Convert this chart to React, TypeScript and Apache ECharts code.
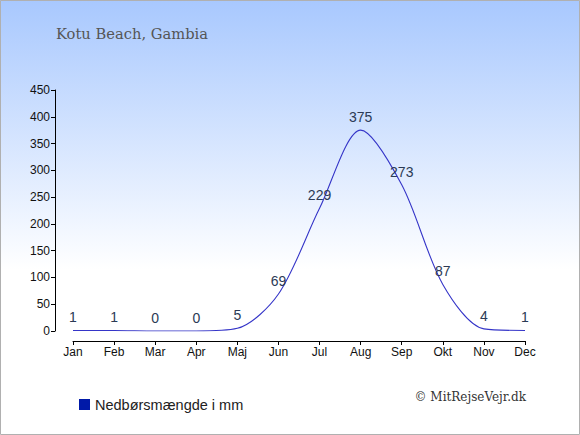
import React, { useEffect, useRef } from "react";
import * as echarts from "echarts";

const months = ["Jan", "Feb", "Mar", "Apr", "Maj", "Jun", "Jul", "Aug", "Sep", "Okt", "Nov", "Dec"];
const rainfall = [1, 1, 0, 0, 5, 69, 229, 375, 273, 87, 4, 1];
const yTicks = { min: 0, max: 450, interval: 50 };
const title = "Kotu Beach, Gambia";
const legendName = "Nedbørsmængde i mm";
const credit = "© MitRejseVejr.dk";

export default function App() {
  const ref = useRef<HTMLDivElement>(null);
  useEffect(() => {
    document.body.style.margin = "0";
    const chart = echarts.init(ref.current!, null, { renderer: "svg" });
    chart.setOption({
      animation: false,
      backgroundColor: {
        type: "linear", x: 0, y: 0, x2: 0, y2: 1,
        colorStops: [
          { offset: 0, color: "#a8c8fe" },
          { offset: 0.62, color: "#ffffff" },
          { offset: 1, color: "#ffffff" },
        ],
      },
      title: {
        text: title,
        left: 51,
        top: 21,
        textStyle: { fontFamily: "DejaVu Serif", fontWeight: "normal", fontSize: 14.7, color: "#555555" },
      },
      legend: {
        left: 74,
        top: 392,
        itemWidth: 11,
        itemHeight: 11,
        itemGap: 6,
        icon: "rect",
        textStyle: { fontFamily: "Liberation Sans", fontSize: 14.5, color: "#222222" },
        data: [{ name: legendName, itemStyle: { color: "#0019a8", opacity: 1 } }],
      },
      graphic: [
        {
          type: "text",
          right: 54,
          top: 391,
          style: { text: credit, font: "12px 'DejaVu Serif'", fill: "#333333" },
        },
        {
          type: "rect",
          shape: { x: 0.5, y: 0.5, width: 579, height: 434 },
          style: { fill: "none", stroke: "#b0b0b0", lineWidth: 1 },
          silent: true,
        },
      ],
      grid: { left: 73, right: 55, top: 90, bottom: 104, containLabel: false },
      xAxis: {
        type: "category",
        data: months,
        boundaryGap: false,
        offset: 10,
        axisLine: { onZero: false, lineStyle: { color: "#000000", width: 1 } },
        axisTick: { show: true, length: 4, lineStyle: { color: "#000" } },
        axisLabel: { color: "#111111", fontFamily: "Liberation Sans", fontSize: 12, margin: 5 },
        splitLine: { show: false },
      },
      yAxis: {
        type: "value",
        min: yTicks.min,
        max: yTicks.max,
        interval: yTicks.interval,
        offset: 18,
        axisLine: { show: true, onZero: false, lineStyle: { color: "#000000", width: 1 } },
        axisTick: { show: true, length: 4, lineStyle: { color: "#000" } },
        axisLabel: { color: "#111111", fontFamily: "Liberation Sans", fontSize: 12, margin: 5 },
        splitLine: { show: false },
      },
      series: [
        {
          name: legendName,
          type: "line",
          data: rainfall,
          smooth: 0.3,
          symbol: "circle",
          symbolSize: 2,
          showSymbol: true,
          lineStyle: { color: "#3535c8", width: 1.1 },
          itemStyle: { color: "rgba(0,0,0,0)" },
          label: {
            show: true,
            position: "top",
            distance: 5,
            color: "#2b3a55",
            fontFamily: "Liberation Sans",
            fontSize: 14,
          },
        },
      ],
    });
    return () => chart.dispose();
  }, []);
  return <div ref={ref} style={{ width: 580, height: 435 }} />;
}
